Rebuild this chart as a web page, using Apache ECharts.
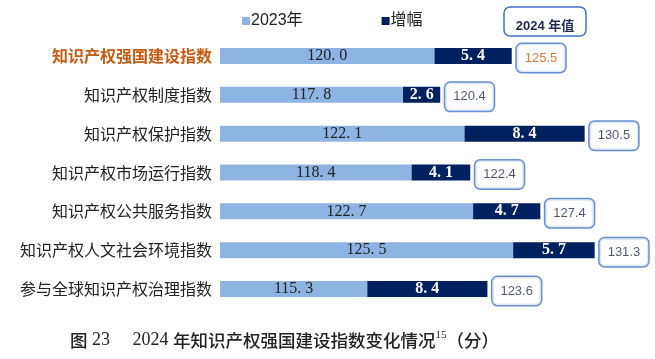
<!DOCTYPE html>
<html><head><meta charset="utf-8">
<script src="https://cdn.jsdelivr.net/npm/echarts@6/dist/echarts.min.js"></script>
<style>html,body{margin:0;padding:0;background:#fff}#c{width:655px;height:359px}</style>
</head><body><div id="c"></div>
<script>
var categories = ['知识产权强国建设指数','知识产权制度指数','知识产权保护指数','知识产权市场运行指数','知识产权公共服务指数','知识产权人文社会环境指数','参与全球知识产权治理指数'];
var base2023 = [120.0, 117.8, 122.1, 118.4, 122.7, 125.5, 115.3];
var increase = [5.4, 2.6, 8.4, 4.1, 4.7, 5.7, 8.4];
var value2024 = [125.5, 120.4, 130.5, 122.4, 127.4, 131.3, 123.6];
var axisMin = 105, axisMax = 135;

var chart = echarts.init(document.getElementById('c'));
var serif = '"Liberation Serif","Noto Sans CJK SC",serif';
var cjk = '"Noto Sans CJK SC",sans-serif';
chart.setOption({
  animation: false,
  legend: {
    left: 237, top: 8, itemWidth: 8, itemHeight: 8, itemGap: 79,
    icon: 'rect',
    textStyle: {fontFamily: '"Liberation Sans","Noto Sans CJK SC",sans-serif', fontSize: 16, color: '#222', padding: [0,0,0,-4]},
    data: ['2023年','增幅']
  },
  grid: {left: 220, right: 6, top: 36.6, bottom: 50.6, containLabel: false},
  xAxis: {type: 'value', min: axisMin, max: axisMax, show: false},
  yAxis: {
    type: 'category', inverse: true, data: categories,
    axisLine: {show: false}, axisTick: {show: false},
    axisLabel: {
      margin: 8, fontFamily: cjk, fontSize: 16, color: '#222',
      formatter: function (v, i) { return i === 0 ? '{hl|' + v + '}' : v; },
      rich: {hl: {color: '#C55A11', fontWeight: 'bold', fontSize: 16, fontFamily: cjk}}
    }
  },
  series: [
    {
      name: '2023年', type: 'bar', stack: 's', barWidth: 16,
      itemStyle: {color: '#8EB4E3'},
      label: {show: true, position: 'inside', fontFamily: serif, fontSize: 16, color: '#222',
        formatter: function (p) { return p.value.toFixed(1).replace('.', '. '); }},
      data: base2023
    },
    {
      name: '增幅', type: 'bar', stack: 's', barWidth: 16,
      itemStyle: {color: '#002060'},
      label: {show: true, position: 'inside', fontFamily: serif, fontSize: 16, fontWeight: 'bold', color: '#fff',
        formatter: function (p) { return p.value.toFixed(1).replace('.', '. '); }},
      data: increase
    },
    {
      name: 'total', type: 'scatter', symbolSize: 0, silent: true,
      label: {
        show: true, position: 'right', distance: 5, offset: [0, 2],
        fontFamily: '"Liberation Sans",Arial,sans-serif', fontSize: 13,
        color: '#1F2A50', borderColor: '#4472C4', borderWidth: 1.5, borderRadius: 5,
        backgroundColor: '#fff', padding: [13, 8, 2, 8],
        formatter: function (p) { return value2024[p.dataIndex].toFixed(1); }
      },
      data: base2023.map(function (b, i) {
        var d = {value: [b + increase[i], categories[i]]};
        if (i === 0) d.label = {color: '#C55A11'};
        return d;
      })
    }
  ],
  graphic: [
    {type: 'rect', shape: {x: 504, y: 7, width: 82, height: 29, r: 6},
      style: {fill: '#fff', stroke: '#4472C4', lineWidth: 1.5}},
    {type: 'text', x: 545, y: 26, style: {text: '2024 年值', fontFamily: '"Liberation Sans","Noto Sans CJK SC",sans-serif',
      fontSize: 13, fontWeight: 'bold', fill: '#1F2A50', align: 'center', verticalAlign: 'middle'}},
    {type: 'text', x: 70, y: 340, style: {
      rich: {
        c: {fontFamily: cjk, fontSize: 17.5, fontWeight: 500, fill: '#222'},
        n: {fontFamily: serif, fontSize: 18, fill: '#222'},
        s: {fontFamily: serif, fontSize: 11, fill: '#222', verticalAlign: 'top', padding: [0,0,10,0]}
      },
      text: '{c|图}{n| 23     2024 }{c|年知识产权强国建设指数变化情况}{s|15}{c|（分）}',
      verticalAlign: 'middle'
    }}
  ]
});
</script></body></html>
